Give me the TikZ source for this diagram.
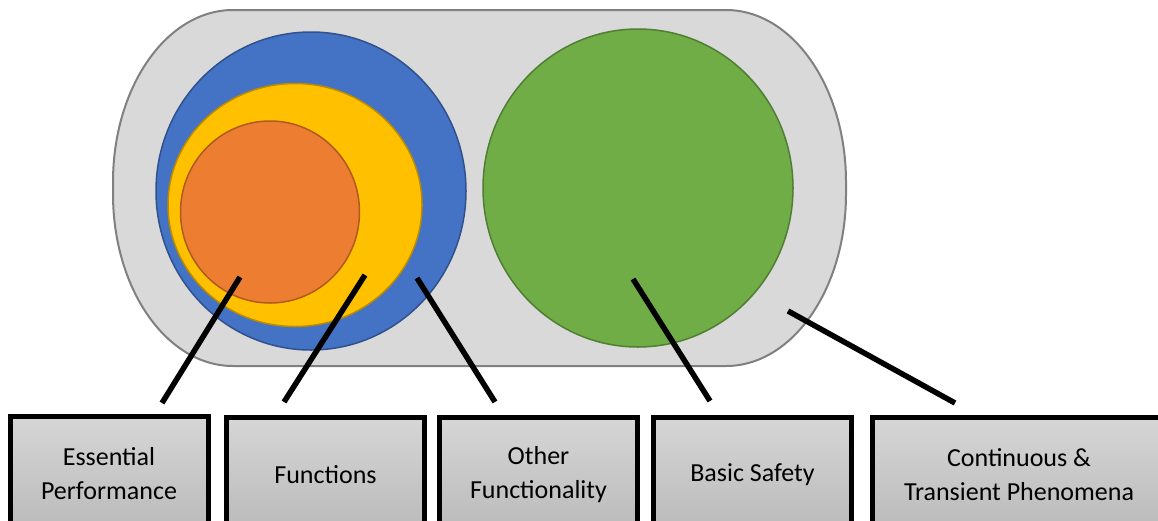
\documentclass[tikz,border=0pt]{standalone}
\usepackage{fontspec}
\setmainfont{Carlito}
\usepackage{xcolor}
\usepackage{tikz}
\usetikzlibrary{shapes.geometric}

\definecolor{frameFill}{HTML}{D9D9D9}
\definecolor{frameLine}{HTML}{808080}
\definecolor{blueFill}{HTML}{4472C4}
\definecolor{blueLine}{HTML}{2F528F}
\definecolor{goldFill}{HTML}{FFC000}
\definecolor{goldLine}{HTML}{BC8C00}
\definecolor{orangeFill}{HTML}{ED7D31}
\definecolor{orangeLine}{HTML}{AE5A21}
\definecolor{greenFill}{HTML}{70AD47}
\definecolor{greenLine}{HTML}{507E32}
\definecolor{boxTop}{HTML}{D6D6D6}
\definecolor{boxBottom}{HTML}{BABABA}

\begin{document}
\begin{tikzpicture}[
    x=1pt, y=-1pt,
    zone/.style={ellipse, draw, line width=1.5pt, inner sep=0pt, outer sep=0pt},
    labelbox/.style={draw=black, line width=5pt, inner sep=0pt,
      minimum width=198pt, minimum height=115pt,
      top color=boxTop, bottom color=boxBottom,
      align=center, font=\fontsize{26}{34}\selectfont},
    leader/.style={line width=5.5pt},
  ]
  \useasboundingbox (0,0) rectangle (1158,520);

  % Outer rounded frame
  \draw[fill=frameFill, draw=frameLine, line width=2pt]
    (233,10) -- (726,10)
    .. controls (792.3,10) and (846,87) .. (846,182) -- (846,194)
    .. controls (846,289) and (792.3,366) .. (726,366) -- (233,366)
    .. controls (166.7,366) and (113,289) .. (113,194) -- (113,182)
    .. controls (113,87) and (166.7,10) .. (233,10) -- cycle;

  % Nested regions
  \node[zone, fill=blueFill, draw=blueLine, minimum width=310pt, minimum height=318pt] (othfunc) at (311,191) {};
  \node[zone, fill=goldFill, draw=goldLine, minimum width=254pt, minimum height=243pt] (funcs) at (295,205) {};
  \node[zone, fill=orangeFill, draw=orangeLine, minimum width=179pt, minimum height=182pt] (essperf) at (270,212) {};
  \node[zone, fill=greenFill, draw=greenLine, minimum width=310pt, minimum height=318pt] (safety) at (638,188) {};

  % Label boxes
  \node[labelbox] (epbox) at (109,474) {Essential\\Performance};
  \node[labelbox] (fnbox) at (325.5,474.5) {Functions};
  \node[labelbox] (ofbox) at (538.5,475) {Other\\Functionality};
  \node[labelbox] (bsbox) at (752.5,474.5) {Basic Safety};
  \node[labelbox, minimum width=294pt] (ctbox) at (1019,475) {Continuous \&\\Transient Phenomena};

  % Leader lines
  \coordinate (ep-tip) at (240,277);  \coordinate (ep-foot) at (162,403);
  \coordinate (fn-tip) at (365,275);  \coordinate (fn-foot) at (284,402);
  \coordinate (of-tip) at (417,278);  \coordinate (of-foot) at (495,402);
  \coordinate (bs-tip) at (633,279);  \coordinate (bs-foot) at (710,401);
  \coordinate (ct-tip) at (788,311);  \coordinate (ct-foot) at (955,403);
  \foreach \n in {ep,fn,of,bs,ct}
    \draw[leader] (\n-tip) -- (\n-foot);
\end{tikzpicture}
\end{document}
